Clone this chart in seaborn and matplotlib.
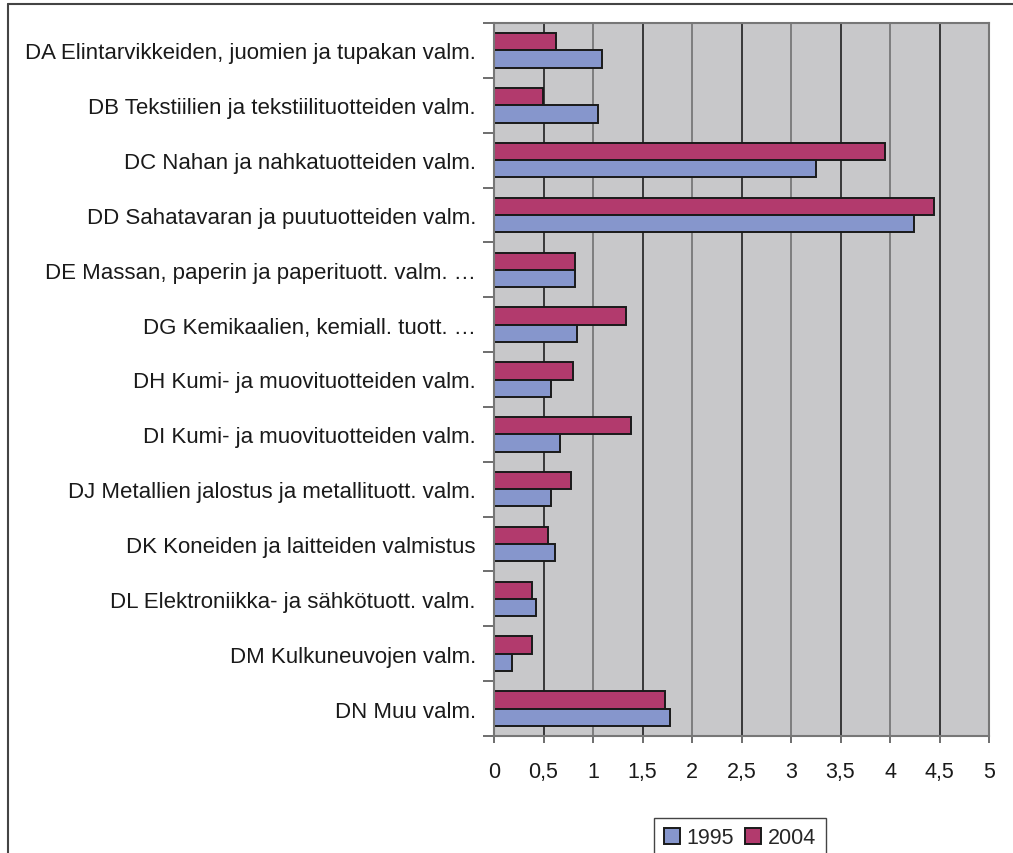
import numpy as np
import pandas as pd
import matplotlib
matplotlib.use("Agg")
import matplotlib.pyplot as plt
from matplotlib.lines import Line2D
from matplotlib.ticker import FuncFormatter
import seaborn as sns

# Data
categories = [
    "DA Elintarvikkeiden, juomien ja tupakan valm.",
    "DB Tekstiilien ja tekstiilituotteiden valm.",
    "DC Nahan ja nahkatuotteiden valm.",
    "DD Sahatavaran ja puutuotteiden valm.",
    "DE Massan, paperin ja paperituott. valm. \u2026",
    "DG Kemikaalien, kemiall. tuott. \u2026",
    "DH Kumi- ja muovituotteiden valm.",
    "DI Kumi- ja muovituotteiden valm.",
    "DJ Metallien jalostus ja metallituott. valm.",
    "DK Koneiden ja laitteiden valmistus",
    "DL Elektroniikka- ja sähkötuott. valm.",
    "DM Kulkuneuvojen valm.",
    "DN Muu valm.",
]
values_1995 = [1.09, 1.05, 3.25, 4.24, 0.815, 0.835, 0.58, 0.67, 0.58, 0.62, 0.42, 0.185, 1.78]
values_2004 = [0.63, 0.49, 3.95, 4.44, 0.815, 1.33, 0.80, 1.38, 0.78, 0.545, 0.38, 0.38, 1.73]
years = ["1995", "2004"]
x_ticks = np.arange(0, 5.01, 0.5)

# Long format for seaborn; keep label strings unique per row index
df = pd.DataFrame({
    "idx": list(range(len(categories))) * 2,
    "value": values_1995 + values_2004,
    "year": ["1995"] * len(categories) + ["2004"] * len(categories),
})

sns.set_style("white")
plt.rcParams["font.family"] = ["Liberation Sans", "DejaVu Sans"]

fig = plt.figure(figsize=(10.13, 8.54), dpi=100)
ax = fig.add_axes([494 / 1013, 1 - 737 / 854, (989 - 494) / 1013, (737 - 24) / 854])
ax.set_facecolor("#C8C8CA")

palette = {"1995": "#8696CC", "2004": "#B23A6D"}
sns.barplot(data=df, y="idx", x="value", hue="year", hue_order=["2004", "1995"],
            orient="h", palette=palette, width=0.63, edgecolor="#1a1a1a",
            linewidth=1.4, saturation=1, ax=ax, legend=True)

ax.set_xlim(0, 5)
ax.set_ylim(len(categories) - 0.5, -0.5)
ax.set_xticks(x_ticks)
ax.xaxis.set_major_formatter(FuncFormatter(lambda v, p: f"{v:g}".replace(".", ",")))
ax.set_yticks(range(len(categories)))
ax.set_yticklabels(categories)
ax.set_yticks(np.arange(-0.5, len(categories), 1), minor=True)
ax.set_xlabel("")
ax.set_ylabel("")

ax.tick_params(axis="y", which="major", length=0, pad=13, labelsize=16, labelcolor="#1a1a1a")
ax.tick_params(axis="y", which="minor", length=8, width=1.2, color="#555555", left=True)
ax.tick_params(axis="x", which="major", length=5, width=1.2, color="#555555",
               bottom=True, pad=13, labelsize=15.5, labelcolor="#1a1a1a")

ax.set_axisbelow(True)
ax.grid(axis="x", linewidth=1.1)
for i, gl in enumerate(ax.get_xgridlines()):
    gl.set_color("#111111" if i % 2 == 1 else "#6a6a6a")
ax.grid(axis="y", visible=False)
for s in ax.spines.values():
    s.set_color("#777777")
    s.set_linewidth(1.5)

# Legend: 1995 first, as in the reference
h, l = ax.get_legend_handles_labels()
ax.get_legend().remove()
order = [l.index(y) for y in years]
fig.legend([h[i] for i in order], [l[i] for i in order], loc="upper center",
           bbox_to_anchor=(740 / 1013, 1 - 808 / 854), ncol=2, frameon=True,
           fancybox=False, edgecolor="#444444", fontsize=15.5, handlelength=0.75,
           handleheight=0.75, handletextpad=0.3, columnspacing=0.5,
           borderpad=0.45, framealpha=1)

# Outer chart frame (cropped at right and bottom in the reference)
fig.add_artist(Line2D([8 / 1013, 1], [1 - 5 / 854, 1 - 5 / 854], color="#444444", lw=1.5))
fig.add_artist(Line2D([8 / 1013, 8 / 1013], [0, 1 - 5 / 854], color="#444444", lw=1.5))

fig.savefig("out.png", dpi=100)
